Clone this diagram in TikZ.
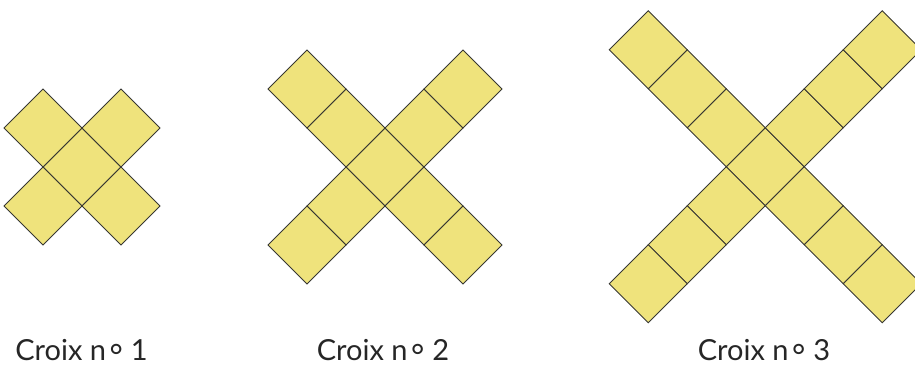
\documentclass[tikz,border=0pt]{standalone}
\usepackage{fontspec}
\setmainfont{Lato}
\definecolor{tileyellow}{RGB}{239,227,124}
\definecolor{tileedge}{RGB}{55,55,50}
% superscript circle of the numero sign
\newcommand\numero{n\kern3.5pt\raisebox{-7pt}[0pt][0pt]{\fontsize{32}{32}\selectfont °}\kern8pt}
% one diamond tile centred at (#1,#2), half-diagonal 39
\newcommand\onetile[2]{%
  \draw[tile] (#1,#2) ++(0,-39) -- ++(39,39) -- ++(-39,39) -- ++(-39,-39) -- cycle;}
% cross centred at (#1,#2) with arms of #3 tiles
\newcommand\drawcross[3]{%
  \onetile{#1}{#2}
  \foreach \k in {1,...,#3} {
    \foreach \sx/\sy in {1/1,1/-1,-1/1,-1/-1} {
      \pgfmathsetmacro\tx{#1+\sx*\k*39}
      \pgfmathsetmacro\ty{#2+\sy*\k*39}
      \onetile{\tx}{\ty}
    }
  }}
\begin{document}
\begin{tikzpicture}[x=1pt,y=-1pt,
  tile/.style={fill=tileyellow,draw=tileedge,line width=0.9pt,line join=miter},
  caption/.style={font=\fontsize{29}{31}\selectfont,anchor=base,inner sep=0pt,text=black!85}]
\useasboundingbox (0,0) rectangle (915,365);
\clip (0,0) rectangle (915,365);
\drawcross{82}{167}{1}
\drawcross{385}{167}{2}
\drawcross{765.3}{166.7}{3}
\node[caption] (lab1) at (81.5,360.5) {Croix \numero1};
\node[caption] (lab2) at (383,360.5) {Croix \numero2};
\node[caption] (lab3) at (764,360.5) {Croix \numero3};
\end{tikzpicture}
\end{document}
